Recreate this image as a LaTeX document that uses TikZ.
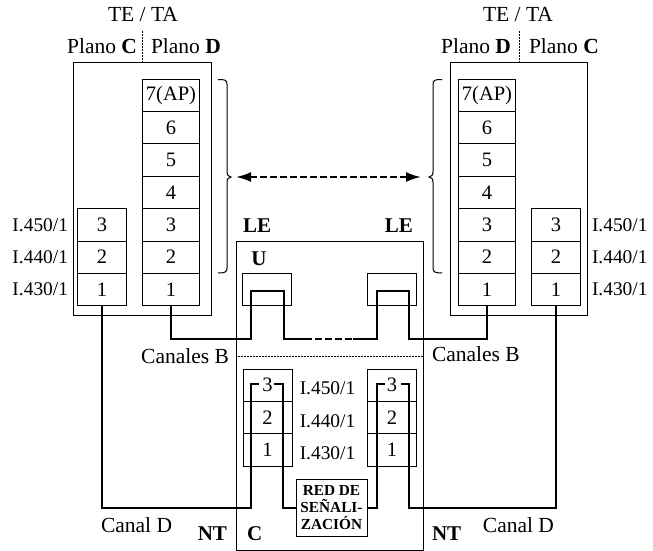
\documentclass[tikz,border=0pt]{standalone}
\usepackage{fontspec}
\setmainfont{Liberation Serif}
\usetikzlibrary{arrows.meta}
\tikzset{
  thinline/.style={draw=black,line width=1pt},
  wire/.style={draw=black,line width=2pt,line join=miter},
  dcell/.style={thinline,rectangle,inner sep=0pt,outer sep=0pt,minimum width=57pt,minimum height=32.4pt,font=\fontsize{20.5}{22}\selectfont},
  ccell/.style={thinline,rectangle,inner sep=0pt,outer sep=0pt,minimum width=49pt,minimum height=32.4pt,font=\fontsize{20.5}{22}\selectfont},
  frame/.style={thinline,rectangle,inner sep=0pt,outer sep=0pt},
  lab/.style={inner sep=0pt,outer sep=0pt,font=\fontsize{21.5}{23}\selectfont},
  ilab/.style={inner sep=0pt,outer sep=0pt,font=\fontsize{19.4}{22}\selectfont},
  blab/.style={inner sep=0pt,outer sep=0pt,font=\fontsize{21}{23}\selectfont\bfseries},
  dualarrow/.style={line width=2pt,dash pattern=on 7pt off 3pt,{Latex[length=15pt,width=10pt]}-{Latex[length=15pt,width=10pt]}}
}
\begin{document}
\begin{tikzpicture}[x=1pt,y=-1pt]
\useasboundingbox (0,0) rectangle (653,551);
% outer frames
\node[frame,minimum width=138pt,minimum height=252pt] (lte) at (142,189) {};
\node[frame,minimum width=137pt,minimum height=252pt] (rte) at (518.5,189) {};
\node[frame,minimum width=187pt,minimum height=309pt] (le) at (329.5,395.5) {};
% TE/TA stacks
\foreach \n/\t/\y in {7/7(AP)/95.2,6/6/127.6,5/5/160,4/4/192.4,3/3/224.8,2/2/257.2,1/1/289.6}{
  \node[dcell] (ld\n) at (171,\y) {\t};
  \node[dcell] (rd\n) at (487,\y) {\t};
}
\foreach \n/\y in {3/224.8,2/257.2,1/289.6}{
  \node[ccell] (lc\n) at (102,\y) {\n};
  \node[ccell] (rc\n) at (556,\y) {\n};
}
% exchange stacks
\foreach \n/\y in {3/385.2,2/417.6,1/450}{
  \node[ccell] (ls\n) at (267.5,\y) {\n};
  \node[ccell] (rs\n) at (392,\y) {\n};
}
% U boxes
\node[frame,minimum width=49pt,minimum height=32pt] (lu) at (266.5,289) {};
\node[frame,minimum width=49pt,minimum height=32pt] (ru) at (392,289) {};
% signalling network
\node[frame,minimum width=71pt,minimum height=57pt,align=center,font=\fontsize{15.3}{17}\selectfont\bfseries,fill=white] (red) at (331.5,507.5) {RED DE\\SEÑALI-\\ZACIÓN};
% plane separators and the exchange divider
\coordinate (ldt) at (142,31);
\coordinate (ldb) at (142,63);
\coordinate (rdt) at (519,31);
\coordinate (rdb) at (519,63);
\coordinate (hl) at (236,356);
\coordinate (hr) at (423,356);
\draw[line width=1pt,dash pattern=on 2pt off 1pt] (ldt) -- (ldb);
\draw[line width=1pt,dash pattern=on 2pt off 1pt] (rdt) -- (rdb);
\draw[line width=0.8pt,dash pattern=on 1pt off 0.5pt] (hl) -- (hr);
% braces
\coordinate (lbt) at (231,177);
\coordinate (rbt) at (429,177);
\draw[line width=1pt] (218,79.5) .. controls (225,79.5) and (227,80) .. (227,84) -- (227,172) .. controls (227,175) .. (lbt) .. controls (227,179) .. (227,182) -- (227,268) .. controls (227,272) and (225,273) .. (218,273);
\draw[line width=1pt] (442,79.5) .. controls (435,79.5) and (433,80) .. (433,84) -- (433,172) .. controls (433,175) .. (rbt) .. controls (433,179) .. (433,182) -- (433,268) .. controls (433,272) and (435,273) .. (442,273);
% double arrow
\coordinate (al) at (236,177);
\coordinate (ar) at (421,177);
\draw[dualarrow] (al) -- (ar);
% B channel wires
\coordinate (b1) at (251,339);
\coordinate (b2) at (251,291);
\coordinate (b3) at (284,291);
\coordinate (b4) at (284,339);
\coordinate (b5) at (305,339);
\coordinate (b6) at (353,339);
\coordinate (b7) at (377,339);
\coordinate (b8) at (377,291);
\coordinate (b9) at (409,291);
\coordinate (b10) at (409,339);
\draw[wire] (ld1.south) |- (b1) -- (b2) -- (b3) -- (b4) -- (b5);
\draw[wire,dash pattern=on 7pt off 3pt] (b5) -- (b6);
\draw[wire] (b6) -- (b7) -- (b8) -- (b9) -- (b10) -| (rd1.south);
% D channel wires
\coordinate (d1) at (251,508);
\coordinate (d2) at (251,384);
\coordinate (d3) at (259,384);
\coordinate (d4) at (274,384);
\coordinate (d5) at (283,384);
\coordinate (d6) at (283,508);
\coordinate (e1) at (377,508);
\coordinate (e2) at (377,384);
\coordinate (e3) at (385,384);
\coordinate (e4) at (401,384);
\coordinate (e5) at (409,384);
\coordinate (e6) at (409,508);
\draw[wire] (lc1.south) |- (d1) -- (d2) -- (d3);
\draw[wire] (d4) -- (d5) -- (d6) -- (red.west |- d6);
\draw[wire] (red.east |- e1) -- (e1) -- (e2) -- (e3);
\draw[wire] (e4) -- (e5) -- (e6) -| (rc1.south);
% texts
\node[lab,anchor=base] (tl) at (143,22) {TE / TA};
\node[lab,anchor=base] (tr) at (518,22) {TE / TA};
\node[lab,anchor=base east] (p1) at (137,54) {Plano \textbf{C}};
\node[lab,anchor=base west] (p2) at (151,54) {Plano \textbf{D}};
\node[lab,anchor=base east] (p3) at (511,54) {Plano \textbf{D}};
\node[lab,anchor=base west] (p4) at (529,54) {Plano \textbf{C}};
\node[ilab,anchor=base east] (i1) at (68,231) {I.450/1};
\node[ilab,anchor=base east] (i2) at (68,263) {I.440/1};
\node[ilab,anchor=base east] (i3) at (68,295) {I.430/1};
\node[ilab,anchor=base west] (j1) at (592,231) {I.450/1};
\node[ilab,anchor=base west] (j2) at (592,263) {I.440/1};
\node[ilab,anchor=base west] (j3) at (592,295) {I.430/1};
\node[ilab,anchor=base] (m1) at (327.5,394) {I.450/1};
\node[ilab,anchor=base] (m2) at (327.5,427) {I.440/1};
\node[ilab,anchor=base] (m3) at (327.5,459) {I.430/1};
\node[blab,anchor=base west] (le1) at (243,232) {LE};
\node[blab,anchor=base east] (le2) at (413,232) {LE};
\node[blab,anchor=base] (u) at (259,265) {U};
\node[lab,anchor=base east] (cb1) at (229,363) {Canales B};
\node[lab,anchor=base west] (cb2) at (432,361) {Canales B};
\node[lab,anchor=base west] (cd1) at (101,532) {Canal D};
\node[lab,anchor=base east] (cd2) at (554,532) {Canal D};
\node[blab,anchor=base east] (nt1) at (227,540) {NT};
\node[blab,anchor=base west] (nt2) at (432,540) {NT};
\node[blab,anchor=base west] (c) at (247,540) {C};
\end{tikzpicture}
\end{document}
